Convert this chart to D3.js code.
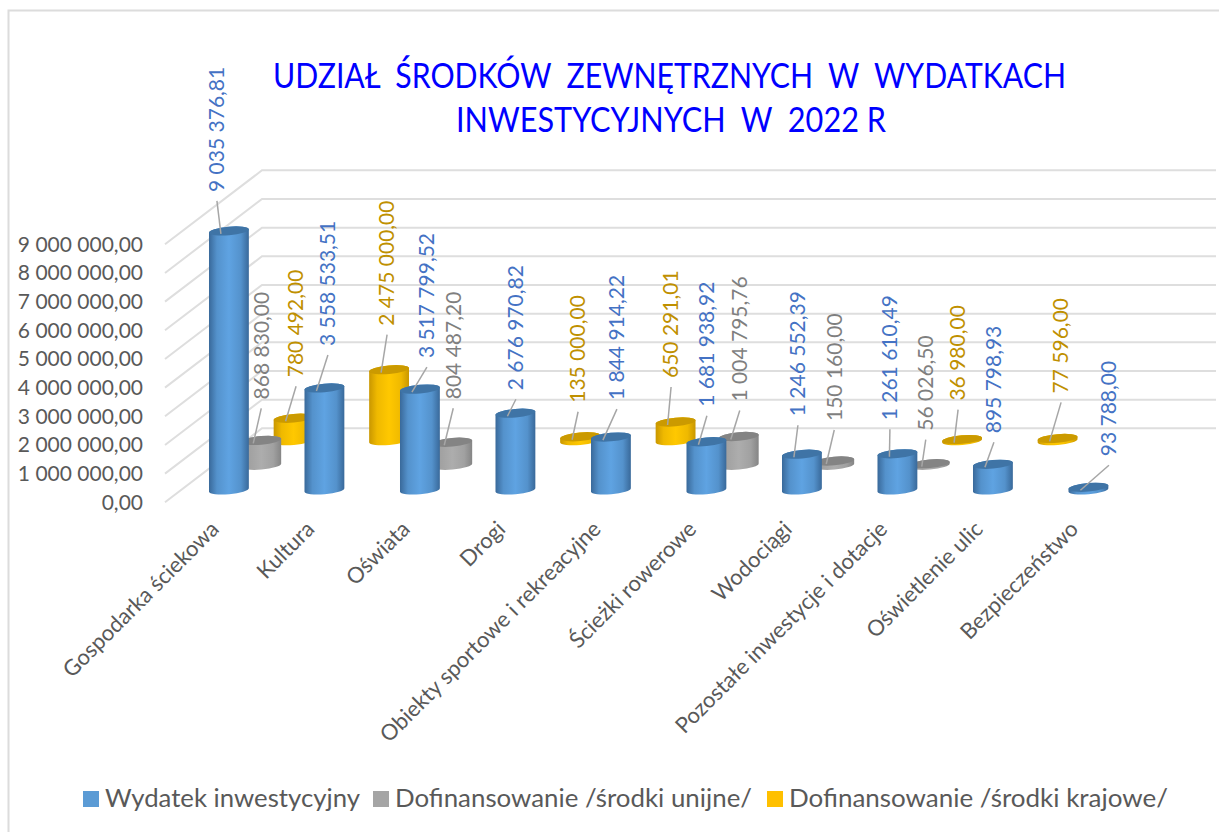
<!DOCTYPE html>
<html>
<head>
	<meta charset="utf-8">
	<title>Udział środków zewnętrznych</title>
	<script src="https://d3js.org/d3.v7.min.js"></script>
	<style>
		body { margin: 0; background: #fff; }
		svg { display: block; font-family: Lato, sans-serif; }
		.axis .domain, .axis .tick line { display: none; }
		.axis text { fill: #595959; }
		.grid { fill: none; stroke: #dedede; stroke-width: 2; }
		.leader { stroke: #a6a6a6; stroke-width: 1.5; }
		.title { fill: #0000ff; font-size: 34px; white-space: pre; }
		.legend text { fill: #595959; font-size: 25px; }
	</style>
</head>
<body>
<svg width="1219" height="832"></svg>
<script type="text/javascript">

const categories = ["Gospodarka ściekowa", "Kultura", "Oświata", "Drogi", "Obiekty sportowe i rekreacyjne", "Ścieżki rowerowe", "Wodociągi", "Pozostałe inwestycje i dotacje", "Oświetlenie ulic", "Bezpieczeństwo"];
const seriesNames = ["Wydatek inwestycyjny", "Dofinansowanie /środki unijne/", "Dofinansowanie /środki krajowe/"];
const wydatek = [9035376.81, 3558533.51, 3517799.52, 2676970.82, 1844914.22, 1681938.92, 1246552.39, 1261610.49, 895798.93, 93788.00];
const unijne = [868830.00, null, 804487.20, null, null, 1004795.76, 150160.00, 56026.50, null, null];
const krajowe = [780492.00, 2475000.00, null, 135000.00, 650291.01, null, null, 36980.00, 77596.00, null];
const yTicks = [0, 1000000, 2000000, 3000000, 4000000, 5000000, 6000000, 7000000, 8000000, 9000000];
const titleLines = ["UDZIAŁ  ŚRODKÓW  ZEWNĘTRZNYCH  W  WYDATKACH", "INWESTYCYJNYCH  W  2022 R"];

// labels were dragged by hand in the original, so each one keeps its own nudge from the top of its bar
const nudgeWydatek = [[-12,-39],[3.5,-42],[7,-31],[0.5,-23],[6,-37],[0.5,-35],[-4,-38],[-7.5,-33.5],[1,-31],[20.5,-31]];
const nudgeUnijne = [[0,-41],null,[1,-43],null,null,[1,-35],[0,-40],[-4,-33],null,null];
const nudgeKrajowe = [[2.5,-41],[-2,-44],null,[-2,-34],[-4.5,-44],null,null,[-4,-39],[3.5,-45],null];

const colors = {
	[seriesNames[0]]: {legend: "#5b9bd5", label: "#4472c4", top: "#3f74a6", edge: "#39699a", mid: "#5fa3e2"},
	[seriesNames[1]]: {legend: "#a5a5a5", label: "#7f7f7f", top: "#848484", edge: "#858585", mid: "#adadad"},
	[seriesNames[2]]: {legend: "#ffc000", label: "#bf9000", top: "#cb9a00", edge: "#c99700", mid: "#ffc800"}
};

const svg = d3.select("svg");
const locale = d3.formatLocale({decimal: ",", thousands: " ", grouping: [3]});
const fmt = locale.format(",.2f");

// frame
svg.append("path").attr("d", "M8.5,832V10.5H1219").attr("fill", "none").attr("stroke", "#dcdcdc").attr("stroke-width", 2);

// title, squeezed to the width the narrower original font had
const titleX = [273, 456], titleW = [793, 430];
titleLines.forEach(function(t, i) {
	svg.append("text").attr("class", "title")
		.attr("x", titleX[i]).attr("y", 88 + i * 44)
		.attr("textLength", titleW[i]).attr("lengthAdjust", "spacingAndGlyphs")
		.text(t);
});

// scales: x along the front of the floor, y up the front, depth goes back into the chart
const x = d3.scaleBand().domain(categories).range([165, 1120]);
const y = d3.scaleLinear().domain([0, 9000000]).range([502.3, 244.3]);
const depth = d3.scaleBand().domain(seriesNames).range([0, 1]);
const depthX = d3.scaleLinear().domain([0, 1]).range([0, 97]);
const depthY = d3.scaleLinear().domain([0, 1]).range([0, -74]);
const rx = 20, ry = 4.3, tilt = -5;
const cosT = Math.cos(tilt * Math.PI / 180), sinT = Math.sin(tilt * Math.PI / 180);

// grid lines
svg.append("g").selectAll("path").data(yTicks).enter().append("path")
	.attr("class", "grid")
	.attr("d", function(d) {
		return "M165," + y(d) + "L" + (165 + depthX(1)) + "," + (y(d) + depthY(1)) + "H1216";
	});

// axes
svg.append("g").attr("class", "axis").attr("transform", "translate(146,0)")
	.call(d3.axisLeft(y).tickValues(yTicks).tickFormat(fmt).tickSize(0))
	.selectAll("text").attr("font-size", 21).attr("font-family", "Lato");

const xAxis = svg.append("g").attr("class", "axis").attr("transform", "translate(0,525)")
	.call(d3.axisBottom(x).tickSize(0));
xAxis.selectAll("text")
	.attr("font-size", 22).attr("font-family", "Lato")
	.attr("text-anchor", "end")
	.attr("transform", "translate(2,0) rotate(-45)")
	.attr("x", 0).attr("y", 0).attr("dy", "0.35em");

// gradients
const defs = svg.append("defs");
seriesNames.forEach(function(s, i) {
	const g = defs.append("linearGradient").attr("id", "cyl" + i);
	const c = colors[s];
	g.append("stop").attr("offset", "0").attr("stop-color", c.edge);
	g.append("stop").attr("offset", "0.2").attr("stop-color", d3.interpolateRgb(c.edge, c.mid)(0.7));
	g.append("stop").attr("offset", "0.5").attr("stop-color", c.mid);
	g.append("stop").attr("offset", "0.8").attr("stop-color", d3.interpolateRgb(c.edge, c.mid)(0.7));
	g.append("stop").attr("offset", "1").attr("stop-color", c.edge);
});

const rows = [
	{name: seriesNames[0], values: wydatek, nudge: nudgeWydatek, idx: 0},
	{name: seriesNames[1], values: unijne, nudge: nudgeUnijne, idx: 1},
	{name: seriesNames[2], values: krajowe, nudge: nudgeKrajowe, idx: 2}
];

function centerX(cat, name) {
	return x(cat) + x.bandwidth() / 2 + depthX(depth(name) + depth.bandwidth() / 2);
}
function baseOffset(name) {
	return depthY(depth(name) + depth.bandwidth() / 2);
}

// back row first so the front row covers it
rows.slice().reverse().forEach(function(row) {
	const data = categories.map(function(c, i) { return {cat: c, v: row.values[i], n: row.nudge[i]}; })
		.filter(function(d) { return d.v !== null; });
	const g = svg.append("g").selectAll("g").data(data).enter().append("g")
		.attr("transform", function(d) { return "translate(" + centerX(d.cat, row.name) + ",0)"; });

	g.append("path")
		.attr("fill", "url(#cyl" + row.idx + ")")
		.attr("d", function(d) {
			const yb = y(0) + baseOffset(row.name), yt = y(d.v) + baseOffset(row.name);
			const lx = -rx * cosT, rxx = rx * cosT, dy = rx * sinT;
			return "M" + lx + "," + (yt - dy) + "L" + lx + "," + (yb - dy)
				+ "A" + rx + "," + ry + " " + tilt + " 0 0 " + rxx + "," + (yb + dy)
				+ "L" + rxx + "," + (yt + dy)
				+ "A" + rx + "," + ry + " " + tilt + " 0 0 " + lx + "," + (yt - dy) + "Z";
		});
	g.append("ellipse")
		.attr("rx", rx).attr("ry", ry)
		.attr("fill", colors[row.name].top)
		.attr("transform", function(d) {
			return "translate(0," + (y(d.v) + baseOffset(row.name)) + ") rotate(" + tilt + ")";
		});
});

// leaders and value labels go above all the bars
rows.forEach(function(row) {
	categories.forEach(function(c, i) {
		const v = row.values[i];
		if (v === null) return;
		const cx = centerX(c, row.name), ty = y(v) + baseOffset(row.name);
		const lx = cx + row.nudge[i][0], ly = ty + row.nudge[i][1];
		svg.append("line").attr("class", "leader")
			.attr("x1", cx - 8).attr("y1", ty + 3)
			.attr("x2", lx).attr("y2", ly + 9);
		svg.append("text")
			.attr("transform", "translate(" + lx + "," + ly + ") rotate(-90)")
			.attr("dy", "0.35em")
			.attr("font-size", 21)
			.attr("fill", colors[row.name].label)
			.text(fmt(v));
	});
});

// legend
const legendX = [83, 373, 767], legendW = [255, 357, 379];
const legend = svg.append("g").attr("class", "legend").selectAll("g").data(seriesNames).enter().append("g")
	.attr("transform", function(d, i) { return "translate(" + legendX[i] + ",791)"; });
legend.append("rect").attr("width", 16).attr("height", 16).attr("fill", function(d) { return colors[d].legend; });
legend.append("text").attr("x", 22).attr("y", 16)
	.attr("textLength", function(d, i) { return legendW[i]; })
	.attr("lengthAdjust", "spacingAndGlyphs")
	.text(function(d) { return d; });

</script>
</body>
</html>
